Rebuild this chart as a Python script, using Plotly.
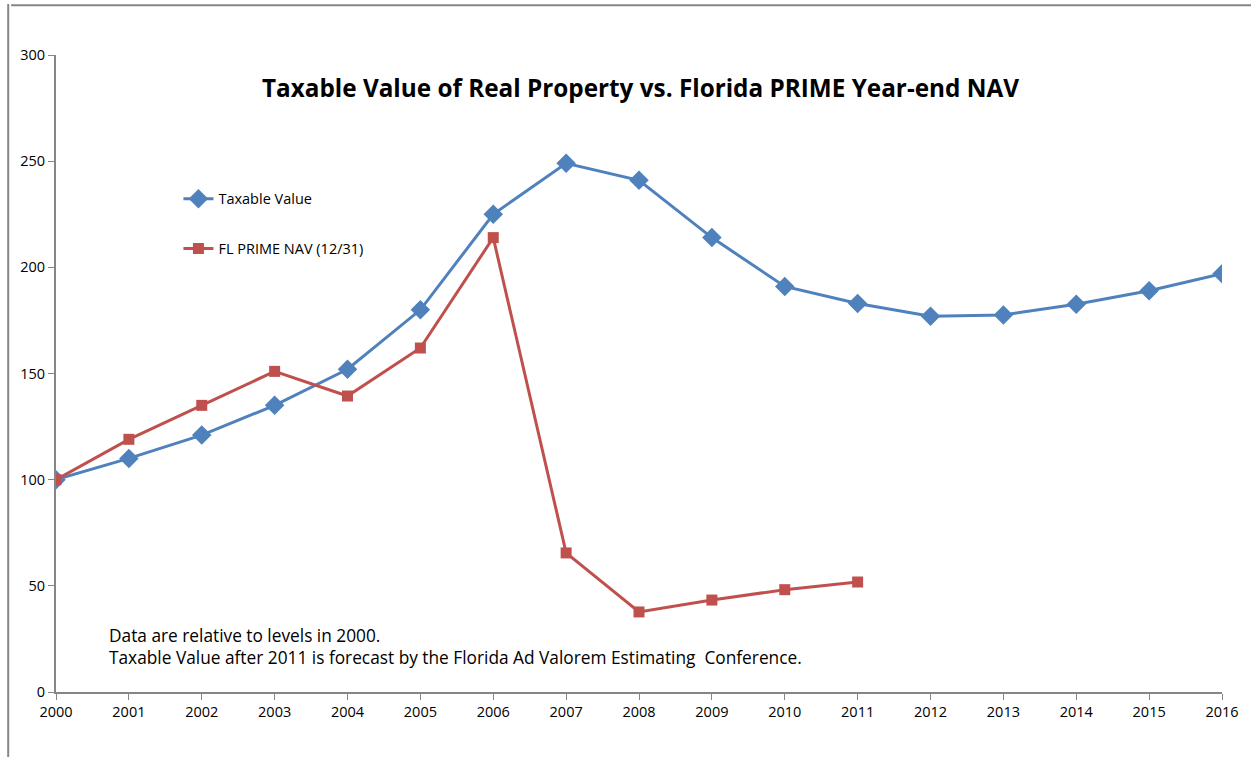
import plotly.graph_objects as go

years = list(range(2000, 2017))
taxable_value = [100, 110, 121, 135, 152, 180, 225, 249, 241, 214, 191, 183, 177, 177.6, 182.6, 189, 197]
prime_years = list(range(2000, 2012))
prime_nav = [100, 119, 135, 151, 139.4, 162, 214, 65.5, 37.7, 43.3, 48.2, 51.8]
y_ticks = [0, 50, 100, 150, 200, 250, 300]

fig = go.Figure()
fig.add_trace(go.Scatter(
    x=years, y=taxable_value, name="Taxable Value", mode="lines+markers",
    line=dict(color="#4F81BD", width=3),
    marker=dict(symbol="diamond", size=15, color="#4F81BD"),
    legendgroup="a"))
fig.add_trace(go.Scatter(
    x=prime_years, y=prime_nav, name="FL PRIME NAV (12/31)", mode="lines+markers",
    line=dict(color="#C0504D", width=3),
    marker=dict(symbol="square", size=11, color="#C0504D"),
    legendgroup="b"))

fig.update_layout(
    width=1251, height=757,
    margin=dict(l=56, r=23, t=55, b=65),
    paper_bgcolor="white", plot_bgcolor="white",
    font=dict(family="Open Sans, sans-serif", size=14.5, color="black"),
    title=dict(text="<b>Taxable Value of Real Property vs. Florida PRIME Year-end NAV</b>",
               x=0.512, xanchor="center", y=0.883, yanchor="middle",
               font=dict(size=24.3, color="black")),
    showlegend=True,
    legend=dict(x=0.105, y=0.735, xanchor="left", yanchor="middle",
                bgcolor="rgba(0,0,0,0)", tracegroupgap=28,
                font=dict(size=14.5), itemwidth=30),
    xaxis=dict(range=[2000, 2016], tickvals=years, ticktext=[str(y) for y in years],
               showgrid=False, zeroline=False, showline=True, linecolor="#868686", linewidth=2,
               ticks="outside", ticklen=6, tickcolor="#868686", tickwidth=1),
    yaxis=dict(range=[0, 300], tickvals=y_ticks, showgrid=False, zeroline=False,
               showline=True, linecolor="#868686", linewidth=2,
               ticks="outside", ticklen=6, tickcolor="#868686", tickwidth=1),
    shapes=[
        dict(type="line", xref="paper", yref="paper", x0=-0.0385, x1=1.05, y0=1.078, y1=1.078,
             line=dict(color="#868686", width=2)),
        dict(type="line", xref="paper", yref="paper", x0=-0.0410, x1=-0.0410, y0=1.08, y1=-0.2,
             line=dict(color="#868686", width=2)),
    ],
    annotations=[
        dict(text="Data are relative to levels in 2000.<br>Taxable Value after 2011 is forecast by the Florida Ad Valorem Estimating  Conference.",
             xref="paper", yref="paper", x=0.0436, y=0.0714, xanchor="left", yanchor="middle",
             align="left", showarrow=False, font=dict(size=17.3, color="black")),
    ],
)

fig.write_html("out.html")
